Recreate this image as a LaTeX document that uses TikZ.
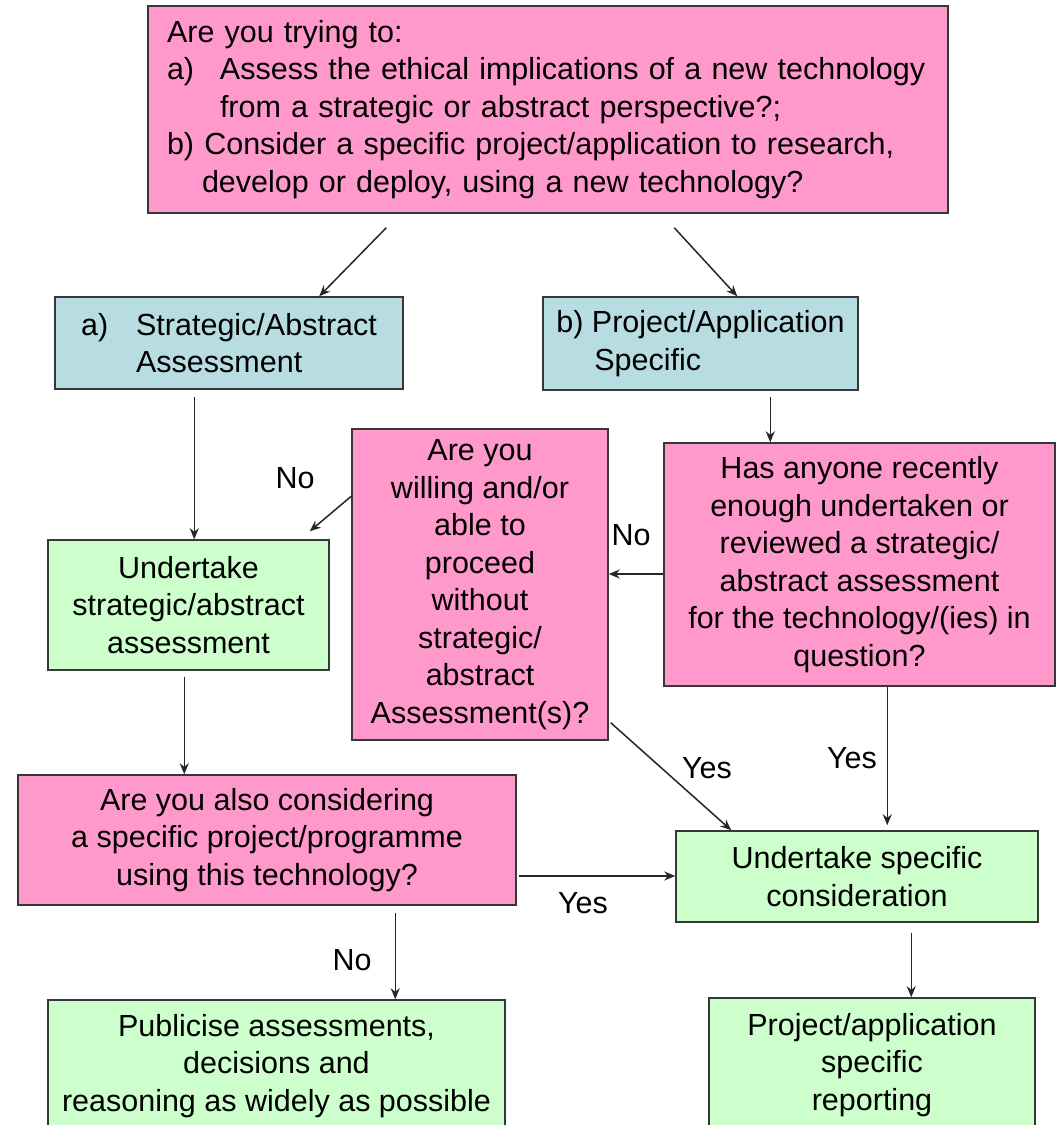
\documentclass[tikz,border=0pt]{standalone}
\usepackage{fontspec}
\setmainfont{Liberation Sans}
\usetikzlibrary{arrows.meta, calc}
\definecolor{qpink}{RGB}{255,153,204}
\definecolor{qblue}{RGB}{183,221,226}
\definecolor{qgreen}{RGB}{204,255,204}
\definecolor{qedge}{RGB}{55,55,55}

\begin{document}
\begin{tikzpicture}[x=1pt, y=-1pt,
  box/.style={draw=qedge, line width=1.5pt, align=center, inner sep=0pt,
    font=\fontsize{30.5}{37.5}\selectfont},
  pinkbox/.style={box, fill=qpink},
  bluebox/.style={box, fill=qblue, align=left},
  greenbox/.style={box, fill=qgreen},
  arr/.style={-{Stealth[length=11pt, width=9pt]}, line width=1.5pt, draw=black!85},
  lbl/.style={font=\fontsize{30.5}{36}\selectfont, inner sep=0pt}]
  \clip (0,0) rectangle (1056,1125);
  \fill[white] (0,0) rectangle (1056,1125);

  % question boxes
  \node[pinkbox, align=left, text width=762pt, inner xsep=19pt, minimum height=207pt] (top) at (548,109.5)
    {Are you trying to:\\
     \makebox[53pt][l]{a)}Assess the ethical implications of a new technology\\
     \hspace*{53pt}from a strategic or abstract perspective?;\\
     b) Consider a specific project/application to research,\\
     \hspace*{35pt}develop or deploy, using a new technology?};
  \node[bluebox, minimum width=348pt, minimum height=92pt] (stratA) at (229,343)
    {\makebox[55pt][l]{a)}Strategic/Abstract\\\hspace*{55pt}Assessment};
  \node[bluebox, minimum width=315pt, minimum height=93pt] (projB) at (700.5,343.5)
    {b) Project/Application\\\hspace*{38pt}Specific};
  \node[greenbox, minimum width=281pt, minimum height=130pt] (undA) at (188.5,605)
    {Undertake\\strategic/abstract\\assessment};
  \node[pinkbox, minimum width=256pt, minimum height=311pt] (willing) at (480,584.5)
    {Are you\\willing and/or\\able to\\proceed\\without\\strategic/\\abstract\\Assessment(s)?};
  \node[pinkbox, minimum width=391pt, minimum height=243pt] (anyone) at (859.5,564.5)
    {Has anyone recently\\enough undertaken or\\reviewed a strategic/\\abstract assessment\\for the technology/(ies) in\\question?};
  \node[pinkbox, minimum width=498pt, minimum height=130pt] (also) at (267,840)
    {Are you also considering\\a specific project/programme\\using this technology?};
  \node[greenbox, minimum width=362pt, minimum height=91pt] (spec) at (857,876.5)
    {Undertake specific\\consideration};
  \node[greenbox, minimum width=457pt, minimum height=132pt] (pub) at (276.5,1066)
    {Publicise assessments,\\decisions and\\reasoning as widely as possible};
  \node[greenbox, minimum width=326pt, minimum height=134pt] (report) at (872,1065)
    {Project/application\\specific\\reporting};

  % connectors
  \draw[arr] ($(top.south west)+(239,14)$) -- ($(stratA.north west)+(265,0)$);
  \draw[arr] ($(top.south west)+(527,14)$) -- ($(projB.north west)+(195,0)$);
  \draw[arr] ($(stratA.south west)+(140,7)$) -- ($(undA.north west)+(147,0)$);
  \draw[arr] ($(projB.south west)+(228,6)$) -- ($(anyone.north west)+(107,0)$);
  \coordinate (noY) at ($(anyone.west)+(0,9.5)$);
  \draw[arr] (noY) -- (noY -| willing.east);
  \draw[arr] ($(willing.north west)+(0,68)$) -- ($(undA.north east)+(-20,-8)$);
  \draw[arr] ($(willing.south east)+(2,-18)$) -- ($(spec.north west)+(56,0)$);
  \draw[arr] ($(anyone.south west)+(224,0)$) -- ($(spec.north west)+(212,-5)$);
  \draw[arr] ($(undA.south west)+(137,6)$) -- ($(also.north west)+(167,0)$);
  \coordinate (yesY) at ($(also.east)+(2,36)$);
  \draw[arr] (yesY) -- (yesY -| spec.west);
  \draw[arr] ($(also.south west)+(378,7)$) -- ($(pub.north west)+(348,0)$);
  \draw[arr] ($(spec.south west)+(236,10)$) -- ($(report.north west)+(203,0)$);

  % answers
  \node[lbl] (noA) at (295,478) {No};
  \node[lbl] (noB) at (631,535) {No};
  \node[lbl] (yesA) at (707,768) {Yes};
  \node[lbl] (yesB) at (852,758) {Yes};
  \node[lbl] (yesC) at (583,903) {Yes};
  \node[lbl] (noC) at (352,960) {No};
\end{tikzpicture}
\end{document}
